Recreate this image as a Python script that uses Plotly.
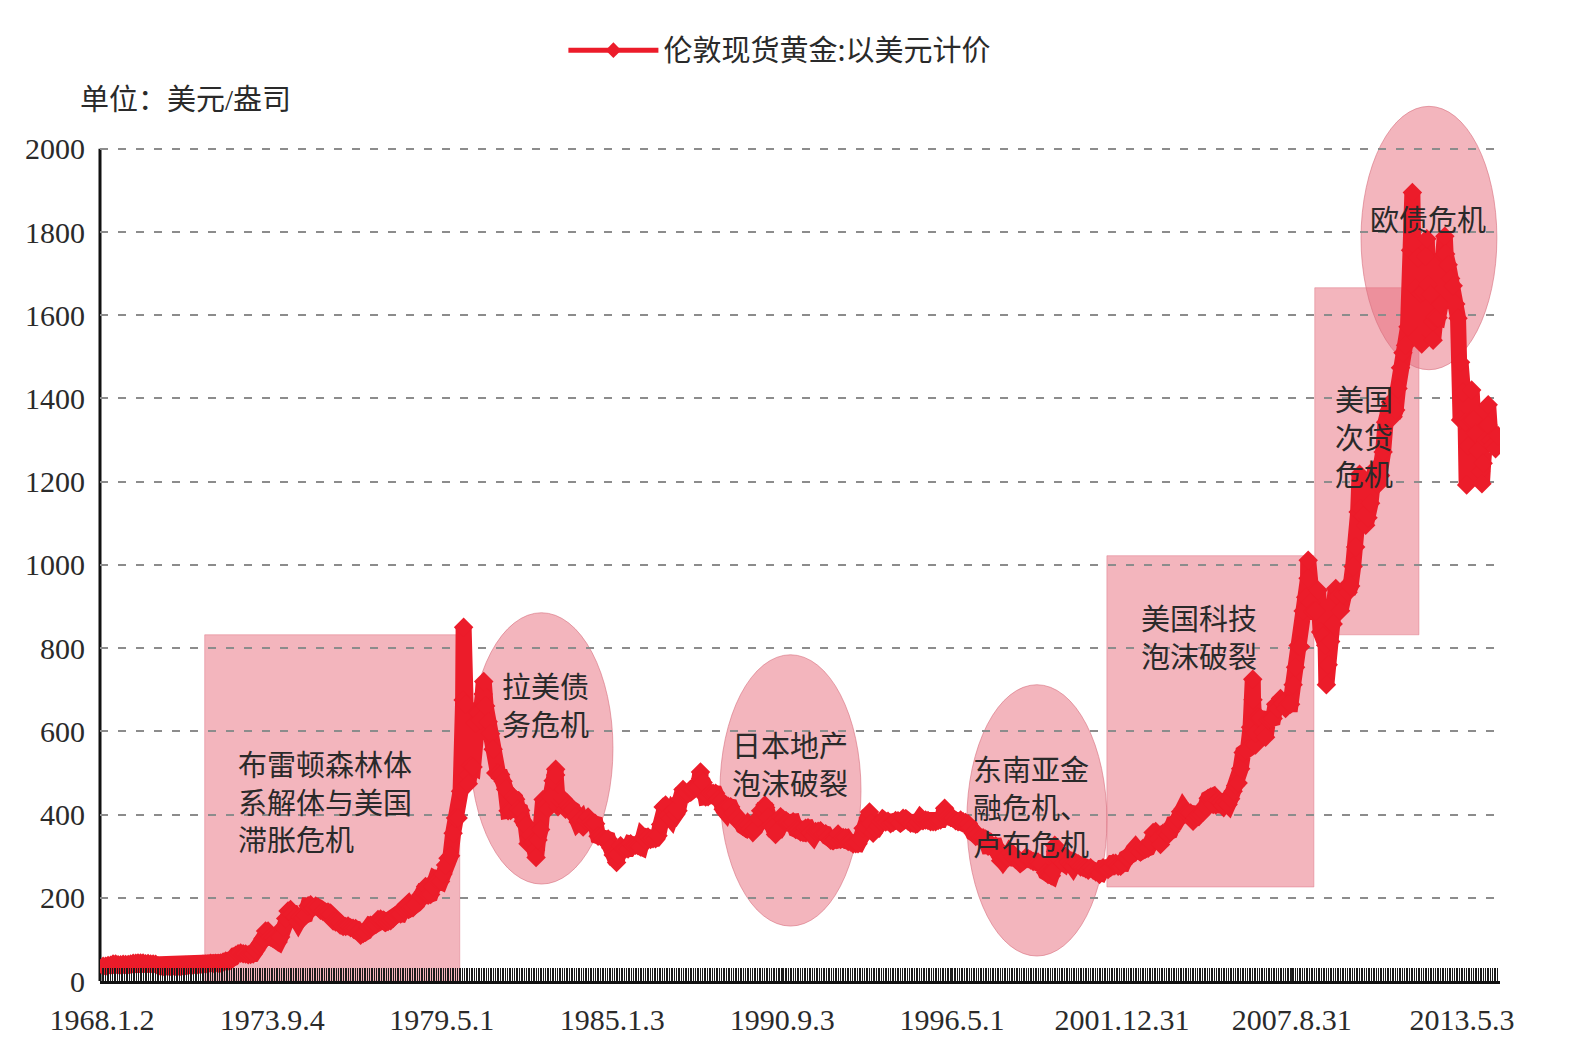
import pandas as pd
import plotly.graph_objects as go

# ---------------- data (monthly values, USD/oz) ----------------
prices_1968_1977 = [
    35.5, 35.6, 37, 38, 41, 41, 39, 39, 40, 39.5, 39.5, 41,
    42.5, 42.5, 43, 43.5, 43.5, 41.5, 42, 41, 41, 40, 36, 35,
    35, 35, 35.5, 35.5, 36, 35.5, 35.3, 35.4, 36, 37.5, 37.5, 37.4,
    37.9, 38.7, 38.9, 39, 40.5, 40.1, 40.9, 42.7, 42, 42.5, 42.9, 43.5,
    45.8, 48.3, 48.3, 49, 54.6, 62.1, 65.7, 67, 65.5, 64.9, 62.9, 63.9,
    65, 74, 84, 90.5, 102, 120, 120, 106, 103, 100, 94, 106,
    129, 150, 168, 172, 163, 154, 143, 154, 151, 158, 181, 183,
    176, 180, 178, 170, 167, 165, 166, 160, 144, 142, 142, 139,
    131, 131, 132, 128, 127, 126, 118, 110, 114, 117, 130, 134,
    132, 136, 148, 149, 146, 141, 143, 145, 150, 158, 162, 161,
]
prices_1978_1987 = [
    173, 178, 184, 175, 176, 183, 189, 206, 213, 227, 206, 208,
    227, 245, 242, 239, 257, 279, 295, 301, 355, 392, 392, 456,
    675, 665, 495, 517, 514, 620, 644, 627, 690, 661, 623, 594,
    557, 500, 499, 496, 480, 461, 409, 410, 443, 437, 413, 410,
    384, 374, 330, 350, 334, 315, 339, 364, 436, 422, 414, 444,
    481, 495, 419, 432, 438, 413, 422, 416, 412, 394, 382, 388,
    370, 386, 394, 381, 377, 378, 348, 348, 341, 340, 341, 320,
    303, 299, 304, 325, 317, 317, 317, 330, 324, 326, 325, 322,
    345, 339, 346, 340, 342, 342, 349, 376, 418, 423, 398, 391,
    408, 401, 409, 438, 460, 450, 450, 461, 460, 465, 467, 486,
]
prices_1988_1997 = [
    477, 442, 443, 452, 451, 451, 437, 432, 413, 406, 420, 419,
    404, 388, 390, 384, 371, 367, 375, 365, 361, 367, 392, 409,
    410, 417, 393, 374, 369, 352, 362, 395, 389, 381, 381, 378,
    383, 364, 363, 358, 357, 367, 368, 356, 349, 359, 360, 361,
    354, 354, 345, 338, 337, 341, 353, 340, 345, 344, 335, 334,
    329, 330, 330, 342, 367, 371, 392, 379, 355, 364, 373, 383,
    387, 382, 384, 378, 381, 386, 385, 380, 391, 389, 384, 379,
    379, 377, 382, 391, 385, 387, 386, 383, 383, 383, 386, 387,
    400, 405, 396, 393, 392, 385, 383, 387, 383, 381, 378, 369,
    355, 347, 352, 344, 344, 341, 324, 324, 323, 325, 306, 289,
]
prices_1998_2007 = [
    289, 297, 296, 308, 299, 292, 293, 284, 289, 296, 294, 291,
    287, 288, 286, 282, 277, 261, 256, 256, 265, 311, 293, 290,
    284, 300, 286, 280, 275, 285, 282, 274, 273, 270, 266, 272,
    266, 262, 263, 260, 272, 270, 268, 273, 283, 283, 276, 276,
    282, 296, 294, 302, 314, 321, 314, 310, 319, 317, 319, 333,
    357, 359, 341, 328, 355, 356, 351, 360, 378, 379, 390, 407,
    414, 405, 406, 404, 384, 392, 398, 400, 406, 420, 439, 442,
    424, 423, 434, 429, 422, 430, 424, 438, 456, 470, 476, 510,
    549, 555, 557, 610, 676, 596, 633, 632, 598, 586, 628, 629,
    631, 665, 655, 679, 667, 655, 665, 665, 712, 754, 806, 803,
]
prices_2008_2014 = [
    889, 922, 968, 909, 888, 889, 939, 839, 829, 807, 760, 816,
    858, 943, 924, 890, 928, 946, 934, 949, 996, 1043, 1127, 1135,
    1118, 1095, 1113, 1148, 1205, 1232, 1193, 1215, 1271, 1343, 1370, 1391,
    1356, 1372, 1424, 1474, 1510, 1528, 1572, 1756, 1772, 1665, 1739, 1652,
    1656, 1742, 1673, 1650, 1585, 1596, 1594, 1626, 1744, 1747, 1721, 1688,
    1671, 1627, 1593, 1487, 1414, 1343, 1286, 1347, 1349, 1316, 1275, 1225,
    1244, 1300, 1336, 1299, 1287, 1279, 1311,
]
# intramonth extremes visible as spikes in the chart
spike_dates = ["1980-01-21", "1980-03-18", "1980-09-22", "1982-06-21", "1983-02-15",
               "1985-02-25", "1987-12-14", "1990-02-05", "1993-08-02", "1996-02-02",
               "1999-08-25", "1999-10-05", "2001-04-02", "2006-05-12", "2006-06-14",
               "2008-03-17", "2008-10-24", "2009-12-02", "2011-09-06", "2011-12-29",
               "2012-02-29", "2012-05-16", "2012-10-05", "2013-04-15", "2013-06-28",
               "2013-08-28", "2013-12-31", "2014-03-17"]
spike_values = [850, 474, 720, 297, 509,
                285, 502, 423, 406, 415,
                253, 326, 256, 725, 567,
                1011, 712, 1218, 1895, 1531,
                1784, 1540, 1790, 1348, 1192,
                1420, 1195, 1385]

tick_dates = ["1968-01-02", "1973-09-04", "1979-05-01", "1985-01-03", "1990-09-03",
              "1996-05-01", "2001-12-31", "2007-08-31", "2013-05-03"]
tick_text = ["1968.1.2", "1973.9.4", "1979.5.1", "1985.1.3", "1990.9.3",
             "1996.5.1", "2001.12.31", "2007.8.31", "2013.5.3"]
y_ticks = [0, 200, 400, 600, 800, 1000, 1200, 1400, 1600, 1800, 2000]

series_name = "伦敦现货黄金:以美元计价"
unit_text = "单位：美元/盎司"

crisis_labels = ["布雷顿森林体<br>系解体与美国<br>滞胀危机", "拉美债<br>务危机", "日本地产<br>泡沫破裂",
                 "东南亚金<br>融危机、<br>卢布危机", "美国科技<br>泡沫破裂", "美国<br>次贷<br>危机", "欧债危机"]

# ---------------- build series ----------------
monthly = prices_1968_1977 + prices_1978_1987 + prices_1988_1997 + prices_1998_2007 + prices_2008_2014
month_dates = [f"{1968 + i // 12}-{i % 12 + 1:02d}-15" for i in range(len(monthly))]
df = pd.DataFrame({"date": pd.to_datetime(month_dates + spike_dates),
                   "price": monthly + spike_values}).sort_values("date")

RED = "#EC1C2A"
FONT_CJK = "Noto Sans CJK SC"
FONT_NUM = "Liberation Serif, Times New Roman, serif"
TEXT = "#2a2a2a"

fig = go.Figure()
fig.add_trace(go.Scatter(
    x=df["date"], y=df["price"], mode="lines+markers", name=series_name,
    line=dict(color=RED, width=16),
    marker=dict(symbol="diamond", size=15, color=RED),
))

# ---------------- crisis highlight shapes ----------------
FILL = "rgba(232,108,124,0.5)"
rect_spans = [("1971-06-05", "1979-12-05", 0, 832),
              ("2001-07-01", "2008-05-25", 226, 1022),
              ("2008-06-05", "2011-11-25", 832, 1666)]
ellipse_spans = [("1980-04-08", "1985-01-12", 233, 885),
                 ("1988-08-07", "1993-04-20", 132, 784),
                 ("1996-10-30", "2001-07-01", 60, 712),
                 ("2009-12-20", "2014-07-01", 1469, 2102)]
for x0, x1, y0, y1 in rect_spans:
    fig.add_shape(type="rect", xref="x", yref="y", x0=x0, x1=x1, y0=y0, y1=y1,
                  fillcolor=FILL, line=dict(color="rgba(225,120,135,0.5)", width=1), layer="below")
for x0, x1, y0, y1 in ellipse_spans:
    fig.add_shape(type="circle", xref="x", yref="y", x0=x0, x1=x1, y0=y0, y1=y1,
                  fillcolor=FILL, line=dict(color="rgba(215,110,125,0.6)", width=1), layer="below")

# y axis line (drawn only up to 2000)
fig.add_shape(type="line", xref="paper", yref="y", x0=0, x1=0, y0=0, y1=2000,
              line=dict(color="#111111", width=3), layer="below")

label_pos = [("1972-06-20", 434), ("1981-04-08", 666), ("1988-12-05", 525),
             ("1996-12-20", 421), ("2002-07-27", 828), ("2009-01-10", 1312), ("2010-03-15", 1834)]
for txt, (lx, ly) in zip(crisis_labels, label_pos):
    fig.add_annotation(x=lx, y=ly, xref="x", yref="y", text=txt, showarrow=False,
                       xanchor="left", yanchor="middle", align="left",
                       font=dict(family=FONT_CJK, size=29, color=TEXT))

fig.add_annotation(x=-0.0157, y=1.0034, xref="paper", yref="paper", text=unit_text,
                   showarrow=False, xanchor="left", yanchor="middle",
                   font=dict(family=FONT_NUM + ", " + FONT_CJK, size=29, color=TEXT))

minor_ticks = pd.date_range("1968-01-02", "2014-08-01", freq="21D")

fig.update_layout(
    width=1576, height=1058,
    margin=dict(l=100, r=76, t=103, b=77),
    plot_bgcolor="white", paper_bgcolor="white",
    showlegend=True,
    legend=dict(orientation="h", x=0.331, xanchor="left", y=1.06, yanchor="middle",
                font=dict(family=FONT_CJK, size=29, color=TEXT),
                bgcolor="rgba(0,0,0,0)", itemsizing="constant", itemwidth=90),
    xaxis=dict(
        type="date", range=["1967-12-08", "2014-08-08"],
        showgrid=False, zeroline=False,
        showline=True, linecolor="#111111", linewidth=3,
        tickmode="array", tickvals=tick_dates, ticktext=tick_text,
        ticks="inside", ticklen=13, tickcolor="#222222", tickwidth=1,
        ticklabelstandoff=10,
        tickfont=dict(family=FONT_NUM, size=30, color=TEXT),
        minor=dict(ticks="inside", ticklen=13, tickcolor="#1a1a1a", tickwidth=1,
                   tickmode="array", tickvals=list(minor_ticks), showgrid=False),
    ),
    yaxis=dict(
        range=[0, 2110], tickmode="array", tickvals=y_ticks,
        showgrid=True, gridcolor="#8c8c8c", gridwidth=2, griddash="8px,10px",
        zeroline=False, showline=False, ticks="",
        ticklabelstandoff=14,
        tickfont=dict(family=FONT_NUM, size=30, color=TEXT),
    ),
)

fig.write_html("out.html")
